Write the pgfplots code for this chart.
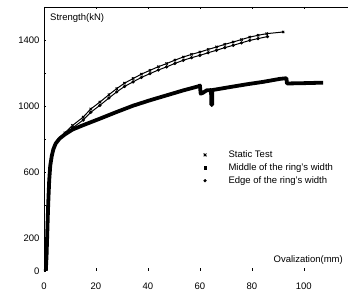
\documentclass[border=0pt]{standalone}
\usepackage{fontspec}
\setmainfont{Liberation Sans}
\usepackage{pgfplots}
\pgfplotsset{compat=1.18}
\begin{document}
\begin{tikzpicture}
\begin{axis}[
  scale only axis, width=304pt, height=264pt,
  xmin=0, xmax=117, ymin=0, ymax=1605,
  axis line style={draw=none},
  xtick={0,20,40,60,80,100},
  ytick={0,200,400,600,800,1000,1200,1400},
  yticklabels={0,200,,600,,1000,,1400},
  ytick pos=left, xtick pos=both,
  tick align=inside, major tick length=2.5pt,
  tick style={black, line width=0.5pt},
  /pgf/number format/assume math mode=true,
  ticklabel style={font=\fontsize{9.5}{11}\selectfont},
  xticklabel style={yshift=-8pt},
  yticklabel style={xshift=-1pt},
  legend style={at={(rel axis cs:0.516,0.462)}, anchor=north west, draw=none, fill=none,
    inner sep=0pt, font=\fontsize{9.5}{10}\selectfont, row sep=1.5pt,
    nodes={inner sep=1.5pt}},
  legend cell align=left,
  legend image code/.code={\path[draw=none,fill=none] (-4pt,0pt) -- (22pt,0pt);\draw[#1] plot coordinates {(0pt,0pt)};},
]
% frame (left, bottom, top)
\draw[black, line width=0.7pt] (rel axis cs:1,1) -- (rel axis cs:0,1) -- (rel axis cs:0,0) -- (rel axis cs:1,0);
\coordinate (o) at (rel axis cs:0,0);

% Middle of the ring's width (thick lower curve)
\addplot[black, line width=3.8pt, line join=round, forget plot] coordinates {
(0.7,0)(1.0,100)(1.3,250)(1.6,400)(2.0,550)(2.4,640)(3.0,700)(3.6,740)(4.5,775)(6,805)(8,830)(11,860)
(15,886)(21.5,926)(28,967)(34.3,1005)(40.8,1038)(47.2,1068)(53.6,1098)(59.5,1123)(60,1128)
(60.3,1078)(61,1082)(62.6,1098)(64.3,1100)(64.4,1010)(64.7,1010)(64.8,1100)
(71.5,1118)(78,1135)(84.4,1150)(90.8,1168)(93.3,1172)(93.5,1140)(100,1142)(107.4,1145)
};

% Static test (upper thin line with x marks)
\addplot[black, line width=1pt, mark=x, mark size=1.6pt, mark repeat=1, forget plot] coordinates {
(8,840)(11,885)(15.1,936)(18,985)(21.5,1027)(25,1072)(28,1109)(31,1142)(34.3,1170)(37.5,1197)(40.8,1220)
(44,1242)(47.2,1261)(50.4,1282)(53.6,1301)(56.8,1317)(60,1331)(63.2,1347)(66.4,1362)(69.6,1378)
(72.8,1392)(76,1407)(79.2,1422)(82.4,1433)(85.7,1443)(92,1453)
};

% Edge of the ring's width (slightly below, with dots)
\addplot[black, line width=1pt, mark=*, mark size=1.1pt, forget plot] coordinates {
(8,830)(11,870)(15.1,918)(18,965)(21.5,1007)(25,1052)(28,1089)(31,1122)(34.3,1150)(37.5,1177)(40.8,1200)
(44,1222)(47.2,1241)(50.4,1262)(53.6,1281)(56.8,1297)(60,1311)(63.2,1327)(66.4,1342)(69.6,1358)
(72.8,1372)(76,1387)(79.2,1402)(82.4,1413)(86,1425)
};

\addlegendimage{only marks, mark=x, mark size=2pt, line width=1pt}
\addlegendentry{Static Test}
\addlegendimage{only marks, mark=square*, mark size=1.3pt}
\addlegendentry{Middle of the ring's width}
\addlegendimage{only marks, mark=*, mark size=1.4pt}
\addlegendentry{Edge of the ring's width}

\node[anchor=west, font=\fontsize{9.5}{11}\selectfont, inner sep=0pt] at ([shift={(6pt,-11pt)}]rel axis cs:0,1) {Strength(kN)};
\node[anchor=east, font=\fontsize{9.5}{11}\selectfont, inner sep=0pt] at ([shift={(-5pt,11pt)}]rel axis cs:1,0) {Ovalization(mm)};
\end{axis}
\pgfresetboundingbox
\path ([shift={(-44pt,-23pt)}]o) rectangle ([shift={(304pt,271pt)}]o);
\end{tikzpicture}
\end{document}
